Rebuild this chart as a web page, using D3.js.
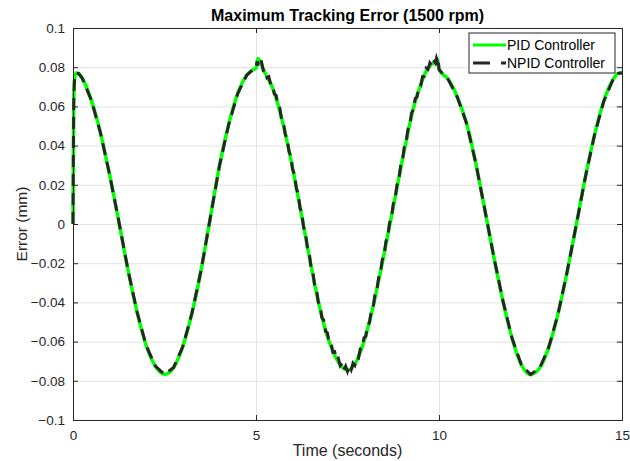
<!DOCTYPE html>
<html>
<head>
<meta charset="utf-8">
<script src="https://cdn.jsdelivr.net/npm/d3@7"></script>
<style>
  body { margin: 0; background: #fff; }
  text { font-family: "Liberation Sans", Arial, sans-serif; fill: #262626; }
</style>
</head>
<body>
<div id="vis1"></div>
<script>
const FRAME_WIDTH = 630;
const FRAME_HEIGHT = 461;
const MARGINS = {left: 73, right: 8, top: 28, bottom: 41};

const VIS_WIDTH = FRAME_WIDTH - MARGINS.left - MARGINS.right;
const VIS_HEIGHT = FRAME_HEIGHT - MARGINS.top - MARGINS.bottom;

// first cycle (both controllers overlap)
const timeA = [0, 0.01, 0.02, 0.04, 0.08, 0.15, 0.25, 0.5, 0.75, 1.0, 1.25, 1.5, 1.75, 2.0, 2.25,
               2.5, 2.75, 3.0, 3.25, 3.5, 3.75, 4.0, 4.25, 4.5, 4.75, 4.9, 5.0];
const errA = [0, 0.035, 0.062, 0.0735, 0.077, 0.0768, 0.0745, 0.0632, 0.0465, 0.0252, 0.0015, -0.0232,
              -0.0448, -0.062, -0.0725, -0.0767, -0.0732, -0.0625, -0.0455, -0.0235, 0.003, 0.0295,
              0.0505, 0.0665, 0.076, 0.0785, 0.0795];

// middle cycle, PID
const timeMidPid = [5.05, 5.1, 5.2, 5.3, 5.4, 5.5, 5.6, 5.7, 5.8, 5.9, 6.0, 6.1, 6.2, 6.3, 6.4, 6.5,
                    6.6, 6.7, 6.8, 6.9, 7.0, 7.1, 7.2, 7.3, 7.4, 7.5, 7.6, 7.7, 7.8, 7.9, 8.0, 8.1,
                    8.2, 8.3, 8.4, 8.5, 8.6, 8.7, 8.8, 8.9, 9.0, 9.1, 9.2, 9.3, 9.4, 9.5, 9.6, 9.7,
                    9.8, 9.9, 9.95];
const errMidPid = [0.0845, 0.0832, 0.079, 0.0752, 0.0718, 0.067, 0.061, 0.054, 0.0462, 0.0377, 0.0285,
                   0.0189, 0.009, -0.001, -0.011, -0.0209, -0.0304, -0.0392, -0.0472, -0.0542, -0.06,
                   -0.0648, -0.0688, -0.0717, -0.0738, -0.0745, -0.0738, -0.0715, -0.0678, -0.0628,
                   -0.0568, -0.0498, -0.042, -0.0335, -0.0245, -0.0152, -0.0057, 0.0038, 0.0133,
                   0.023, 0.0328, 0.042, 0.051, 0.059, 0.0655, 0.071, 0.076, 0.0795, 0.0815, 0.0832,
                   0.0845];

// middle cycle, NPID (noisy)
const timeMidNpid = [5.03, 5.05, 5.07, 5.1, 5.15, 5.2, 5.25, 5.3, 5.35, 5.4, 5.45, 5.5, 5.55, 5.6, 5.65,
                     5.7, 5.75, 5.8, 5.85, 5.9, 5.95, 6.0, 6.05, 6.1, 6.15, 6.2, 6.25, 6.3, 6.35, 6.4,
                     6.45, 6.5, 6.55, 6.6, 6.65, 6.7, 6.75, 6.8, 6.85, 6.9, 6.95, 7.0, 7.05, 7.1, 7.15,
                     7.2, 7.25, 7.3, 7.35, 7.4, 7.45, 7.5, 7.55, 7.6, 7.65, 7.7, 7.75, 7.8, 7.85, 7.9,
                     7.95, 8.0, 8.05, 8.1, 8.15, 8.2, 8.25, 8.3, 8.35, 8.4, 8.45, 8.5, 8.55, 8.6, 8.65,
                     8.7, 8.75, 8.8, 8.85, 8.9, 8.95, 9.0, 9.05, 9.1, 9.15, 9.2, 9.25, 9.3, 9.35, 9.4,
                     9.45, 9.5, 9.55, 9.6, 9.65, 9.7, 9.75, 9.8, 9.85, 9.9, 9.93, 9.96, 9.98];
const errMidNpid = [0.083, 0.0808, 0.0842, 0.0826, 0.0828, 0.0784, 0.0788, 0.0746, 0.0752, 0.0712, 0.0711,
                    0.0664, 0.0657, 0.0604, 0.0592, 0.0534, 0.0518, 0.0456, 0.0437, 0.0371, 0.0348,
                    0.0279, 0.0254, 0.0183, 0.0157, 0.0084, 0.0057, -0.0016, -0.0043, -0.0116, -0.0143,
                    -0.0215, -0.024, -0.031, -0.0331, -0.0398, -0.0415, -0.0478, -0.049, -0.0548,
                    -0.0554, -0.0606, -0.0607, -0.0654, -0.0651, -0.0694, -0.0686, -0.0723, -0.0711,
                    -0.0744, -0.0725, -0.0752, -0.0725, -0.0744, -0.071, -0.0721, -0.068, -0.0684,
                    -0.0636, -0.0634, -0.0581, -0.0574, -0.0516, -0.0504, -0.0442, -0.0426, -0.0361,
                    -0.0341, -0.0273, -0.0251, -0.0182, -0.0158, -0.0088, -0.0063, 0.0007, 0.0032,
                    0.0103, 0.0127, 0.0199, 0.0224, 0.0296, 0.0322, 0.0391, 0.0414, 0.0482, 0.0504,
                    0.0567, 0.0584, 0.064, 0.0649, 0.07, 0.0704, 0.0752, 0.0754, 0.0795, 0.0789,
                    0.0822, 0.0809, 0.0838, 0.0822, 0.0845, 0.0826, 0.0842];

// last cycle (both controllers overlap)
const timeC = [10.0, 10.05, 10.25, 10.5, 10.75, 11.0, 11.25, 11.5, 11.75, 12.0, 12.25, 12.5, 12.75,
               13.0, 13.25, 13.5, 13.75, 14.0, 14.25, 14.5, 14.75, 14.9, 15.0];
const errC = [0.079, 0.0776, 0.0738, 0.0648, 0.0515, 0.0315, 0.0075, -0.017, -0.0395, -0.0585,
              -0.0718, -0.0768, -0.0735, -0.0628, -0.046, -0.0245, -0.0005, 0.024, 0.0455, 0.0625,
              0.0735, 0.0768, 0.0772];

const xTicks = [0, 5, 10, 15];
const yTicks = [-0.1, -0.08, -0.06, -0.04, -0.02, 0, 0.02, 0.04, 0.06, 0.08, 0.1];
const seriesNames = ["PID Controller", "NPID Controller"];

const toPoints = (ts, vs) => ts.map((t, i) => ({t: t, v: vs[i]}));

const ptsA = toPoints(timeA, errA);
const ptsC = toPoints(timeC, errC);
const pidData = ptsA.concat(toPoints(timeMidPid, errMidPid), ptsC);
const npidData = ptsA.concat(toPoints(timeMidNpid, errMidNpid), ptsC);

const FRAME = d3.select("#vis1")
                  .append("svg")
                    .attr("width", FRAME_WIDTH)
                    .attr("height", FRAME_HEIGHT);

const X_SCALE = d3.scaleLinear().domain([0, 15]).range([0, VIS_WIDTH]);
const Y_SCALE = d3.scaleLinear().domain([-0.1, 0.1]).range([VIS_HEIGHT, 0]);

const PLOT = FRAME.append("g")
                  .attr("transform", "translate(" + MARGINS.left + "," + MARGINS.top + ")");

// grid
PLOT.append("g")
      .attr("transform", "translate(0," + VIS_HEIGHT + ")")
      .call(d3.axisBottom(X_SCALE).tickValues(xTicks).tickSize(-VIS_HEIGHT).tickFormat(""))
      .call(g => g.select(".domain").remove())
      .selectAll("line").attr("stroke", "#e3e3e3");
PLOT.append("g")
      .call(d3.axisLeft(Y_SCALE).tickValues(yTicks).tickSize(-VIS_WIDTH).tickFormat(""))
      .call(g => g.select(".domain").remove())
      .selectAll("line").attr("stroke", "#e3e3e3");

// lines
const line = d3.line()
               .x(d => X_SCALE(d.t))
               .y(d => Y_SCALE(d.v));

PLOT.append("path")
      .datum(pidData)
      .attr("fill", "none")
      .attr("stroke", "#00ff00")
      .attr("stroke-width", 3.5)
      .attr("d", line.curve(d3.curveMonotoneX));

PLOT.append("path")
      .datum(npidData)
      .attr("fill", "none")
      .attr("stroke", "#262626")
      .attr("stroke-width", 3)
      .attr("stroke-dasharray", "12,7")
      .attr("d", line.curve(d3.curveLinear));

// axes (box with inward ticks)
const fmt = d => d3.format("")(+d.toFixed(2));
const axB = PLOT.append("g")
      .attr("transform", "translate(0," + VIS_HEIGHT + ")")
      .call(d3.axisBottom(X_SCALE).tickValues(xTicks).tickSize(-5).tickPadding(10).tickFormat(fmt));
const axL = PLOT.append("g")
      .call(d3.axisLeft(Y_SCALE).tickValues(yTicks).tickSize(-5).tickPadding(8).tickFormat(fmt));
const axT = PLOT.append("g")
      .call(d3.axisTop(X_SCALE).tickValues(xTicks).tickSize(-5).tickFormat(""));
const axR = PLOT.append("g")
      .attr("transform", "translate(" + VIS_WIDTH + ",0)")
      .call(d3.axisRight(Y_SCALE).tickValues(yTicks).tickSize(-5).tickFormat(""));

[axB, axL, axT, axR].forEach(ax => {
  ax.select(".domain").attr("stroke", "#262626").attr("stroke-width", 1);
  ax.selectAll("line").attr("stroke", "#262626");
  ax.selectAll("text").attr("font-size", "13.5px").attr("fill", "#262626")
    .attr("font-family", "Liberation Sans, Arial, sans-serif");
});

// title and labels
FRAME.append("text")
      .attr("x", MARGINS.left + VIS_WIDTH / 2)
      .attr("y", 21)
      .attr("text-anchor", "middle")
      .attr("font-size", "16px")
      .attr("font-weight", "bold")
      .style("fill", "#000")
      .text("Maximum Tracking Error (1500 rpm)");

FRAME.append("text")
      .attr("x", MARGINS.left + VIS_WIDTH / 2)
      .attr("y", 456)
      .attr("text-anchor", "middle")
      .attr("font-size", "16px")
      .text("Time (seconds)");

FRAME.append("text")
      .attr("transform", "translate(27," + (MARGINS.top + VIS_HEIGHT / 2) + ") rotate(-90)")
      .attr("text-anchor", "middle")
      .attr("font-size", "15.5px")
      .text("Error (mm)");

// legend
const LEGEND = FRAME.append("g").attr("transform", "translate(469,33)");
LEGEND.append("rect")
      .attr("width", 146).attr("height", 40)
      .attr("fill", "#fff").attr("stroke", "#262626").attr("stroke-width", 1);

const legendStyles = [
  {color: "#00ff00", dash: null},
  {color: "#262626", dash: "17,11"}
];
seriesNames.forEach((name, i) => {
  const yy = 12 + i * 18;
  LEGEND.append("line")
        .attr("x1", 4).attr("x2", 37).attr("y1", yy).attr("y2", yy)
        .attr("stroke", legendStyles[i].color)
        .attr("stroke-width", 3)
        .attr("stroke-dasharray", legendStyles[i].dash);
  LEGEND.append("text")
        .attr("x", 38).attr("y", yy + 5)
        .attr("font-size", "14px")
        .style("fill", "#000")
        .text(name);
});
</script>
</body>
</html>
